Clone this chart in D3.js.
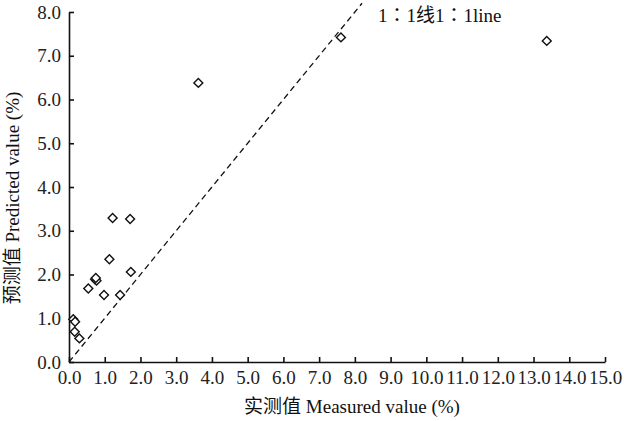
<!DOCTYPE html>
<html>
<head>
<meta charset="utf-8">
<script src="https://cdn.jsdelivr.net/npm/d3@7"></script>
<style>
  body { margin: 0; background: #fff; }
</style>
</head>
<body>
<script>
// measured vs predicted (%)
const measured  = [0.12, 0.17, 0.16, 0.29, 0.54, 0.73, 0.77, 0.75, 0.98, 1.13, 1.22, 1.43, 1.71, 1.73, 3.62, 7.61, 13.37]
const predicted = [0.98, 0.92, 0.69, 0.54, 1.68, 1.89, 1.86, 1.92, 1.53, 2.35, 3.29, 1.53, 3.27, 2.06, 6.38, 7.42, 7.34]
const xTicks = d3.range(0, 15.1, 1)
const yTicks = d3.range(0, 8.1, 1)
const lineEnds = [0, 8.2]

const width = 624
const height = 421
const mLeft = 69, mRight = 605, mTop = 12, mBottom = 362
const serif = "'Liberation Serif', 'DejaVu Serif', serif"
const cjk = "'Liberation Serif', 'Noto Sans CJK SC', serif"

const svg = d3.select("body").append("svg")
    .attr("width", width)
    .attr("height", height)

const x = d3.scaleLinear().domain([0, 15]).range([mLeft, mRight])
const y = d3.scaleLinear().domain([0, 8]).range([mBottom, mTop])

svg.append("g")
    .attr("transform", `translate(0,${mBottom})`)
    .call(d3.axisBottom(x).tickValues(xTicks).tickFormat(d3.format(".1f"))
        .tickSizeInner(-5).tickSizeOuter(0).tickPadding(9))
svg.append("g")
    .attr("transform", `translate(${mLeft},0)`)
    .call(d3.axisLeft(y).tickValues(yTicks).tickFormat(d3.format(".1f"))
        .tickSizeInner(-5).tickSizeOuter(0).tickPadding(8))

svg.selectAll(".domain, .tick line")
    .attr("stroke", "#111")
    .attr("stroke-width", 1.6)
svg.selectAll(".tick text")
    .style("font-family", serif)
    .style("font-size", "19px")
    .attr("fill", "#222")

// 1:1 line
svg.append("line")
    .attr("x1", x(lineEnds[0])).attr("y1", y(lineEnds[0]))
    .attr("x2", x(lineEnds[1])).attr("y2", y(lineEnds[1]))
    .attr("stroke", "#111")
    .attr("stroke-width", 1.3)
    .attr("stroke-dasharray", "6,4")

svg.append("text")
    .attr("x", 378)
    .attr("y", 22)
    .style("font-family", "'Liberation Serif', 'Noto Sans CJK TC', serif")
    .style("font-size", "19px")
    .attr("fill", "#111")
    .text("1：1线1：1line")

const points = measured.map((m, i) => ({m: m, p: predicted[i]}))
svg.selectAll("path.pt")
    .data(points)
    .enter()
    .append("path")
    .attr("class", "pt")
    .attr("d", d3.symbol().type(d3.symbolSquare).size(40))
    .attr("transform", d => `translate(${x(d.m)},${y(d.p)}) rotate(45)`)
    .attr("fill", "#fff")
    .attr("stroke", "#111")
    .attr("stroke-width", 1.4)

svg.append("text")
    .attr("x", (mLeft + mRight) / 2 + 15)
    .attr("y", 413)
    .attr("text-anchor", "middle")
    .style("font-family", cjk)
    .style("font-size", "19px")
    .attr("fill", "#111")
    .text("实测值 Measured value (%)")

svg.append("text")
    .attr("transform", `translate(19,198) rotate(-90)`)
    .attr("text-anchor", "middle")
    .style("font-family", cjk)
    .style("font-size", "19px")
    .attr("fill", "#111")
    .text("预测值 Predicted value (%)")
</script>
</body>
</html>
